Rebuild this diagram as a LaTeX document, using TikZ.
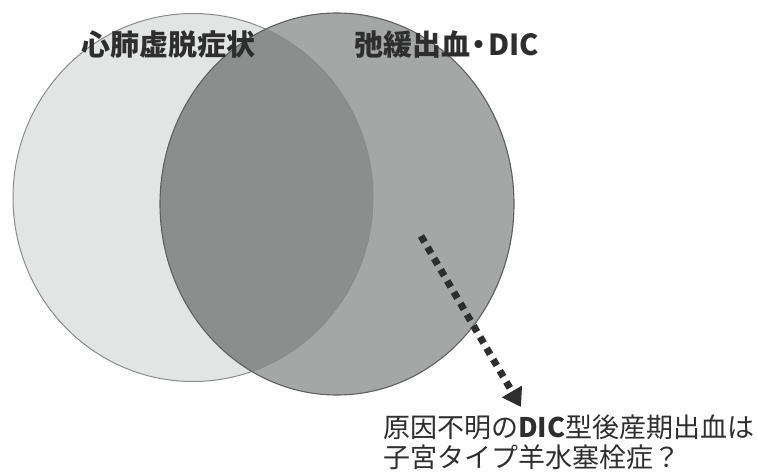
\documentclass[tikz,border=0pt]{standalone}
\usepackage{fontspec}
\newfontfamily\cjk{Noto Sans CJK JP}
\usetikzlibrary{arrows.meta}
\definecolor{leftfill}{HTML}{E3E5E5}
\definecolor{rightfill}{HTML}{A5A7A7}
\definecolor{overlapfill}{HTML}{8C8E8E}
\definecolor{leftline}{HTML}{8A8C8C}
\definecolor{rightline}{HTML}{5E6060}
\definecolor{textcol}{HTML}{2E2E2E}
\tikzset{
  toplabel/.style={inner sep=0pt, text=textcol, font=\cjk\bfseries\fontsize{29}{33}\selectfont},
  notelabel/.style={inner sep=0pt, anchor=base west, text=textcol, font=\cjk\fontsize{27}{32}\selectfont},
  dotarrow/.style={draw=textcol, line width=7pt, dash pattern=on 7pt off 6pt,
    -{Triangle[length=18pt,width=22pt,fill=textcol]}}
}
\begin{document}
\begin{tikzpicture}[x=1pt,y=-1pt]
\useasboundingbox (0,0) rectangle (757,473);
\coordinate (cl) at (193,197.5);
\coordinate (cr) at (337,204);
\fill[leftfill] (cl) ellipse [x radius=180pt, y radius=184pt];
\fill[rightfill] (cr) ellipse [x radius=177pt, y radius=191pt];
\begin{scope}
  \clip (cl) ellipse [x radius=180pt, y radius=184pt];
  \fill[overlapfill] (cr) ellipse [x radius=177pt, y radius=191pt];
\end{scope}
\draw[leftline, line width=1pt] (cl) ellipse [x radius=180pt, y radius=184pt];
\draw[rightline, line width=1.1pt] (cr) ellipse [x radius=177pt, y radius=191pt];
\node[toplabel] (l1) at (168,45) {心肺虚脱症状};
\node[toplabel] (l2) at (447,45) {弛緩出血\kern-6pt・\kern-5pt DIC};
\node[notelabel] (t1) at (383,437) {原因不明の\textbf{DIC}型後産期出血は};
\node[notelabel] (t2) at (383,467) {子宮タイプ羊水塞栓症？};
\coordinate (as) at (421,236);
\coordinate (ae) at (521,407);
\draw[dotarrow] (as) -- (ae);
\end{tikzpicture}
\end{document}
